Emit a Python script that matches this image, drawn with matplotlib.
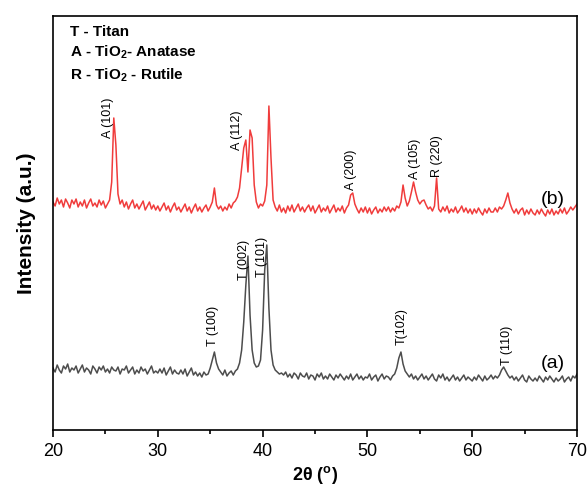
import numpy as np
import matplotlib
matplotlib.use("Agg")
import matplotlib.pyplot as plt
from matplotlib.ticker import MultipleLocator

plt.rcParams['font.family'] = ['Liberation Sans', 'DejaVu Sans']
plt.rcParams['mathtext.fontset'] = 'custom'
plt.rcParams['mathtext.rm'] = 'Liberation Sans'
plt.rcParams['mathtext.bf'] = 'Liberation Sans:bold'

two_theta = np.linspace(20, 70, 251)

# (a) titanium substrate, intensity (a.u.), rows of 2 degrees
counts_a = [
    62, 58, 65, 60, 57, 64, 61, 66, 58, 62,
    60, 64, 57, 61, 65, 58, 62, 60, 56, 64,
    61, 57, 63, 60, 64, 58, 61, 57, 63, 60,
    59, 63, 56, 61, 60, 64, 57, 60, 63, 56,
    60, 57, 63, 59, 61, 56, 60, 64, 57, 59,
    57, 61, 57, 62, 55, 59, 63, 56, 60, 57,
    56, 60, 56, 61, 54, 58, 62, 55, 58, 54,
    57, 53, 58, 55, 56, 62, 70, 78, 67, 61,
    58, 55, 60, 54, 57, 59, 55, 59, 61, 67,
    80, 108, 145, 174, 115, 80, 67, 63, 64, 70,
    100, 160, 185, 122, 80, 65, 60, 58, 56, 57,
    55, 58, 53, 56, 52, 57, 55, 51, 57, 54,
    53, 57, 51, 55, 54, 50, 56, 53, 57, 51,
    54, 51, 56, 53, 50, 55, 52, 56, 53, 50,
    54, 51, 56, 50, 53, 56, 51, 54, 50, 53,
    52, 56, 50, 53, 55, 49, 53, 56, 51, 54,
    53, 50, 54, 56, 62, 72, 78, 66, 59, 56,
    53, 56, 51, 54, 50, 53, 56, 51, 54, 50,
    53, 56, 51, 49, 55, 52, 56, 50, 53, 49,
    52, 55, 50, 53, 49, 52, 55, 50, 53, 51,
    49, 53, 50, 55, 52, 49, 54, 50, 52, 55,
    51, 54, 52, 55, 60, 63, 59, 55, 52, 54,
    50, 53, 49, 52, 55, 50, 48, 54, 51, 49,
    52, 49, 54, 51, 48, 53, 50, 54, 51, 48,
    52, 49, 51, 54, 48, 51, 53, 49, 54, 52,
    56,
]

# (b) oxidised sample
counts_b = [
    228, 224, 232, 226, 230, 223, 231, 227, 222, 230,
    226, 231, 223, 228, 224, 230, 222, 227, 231, 224,
    227, 223, 230, 225, 229, 222, 226, 230, 248, 312,
    285, 236, 226, 230, 223, 228, 221, 226, 230, 222,
    226, 221, 225, 229, 220, 224, 228, 221, 225, 220,
    224, 219, 223, 227, 220, 224, 218, 223, 227, 220,
    223, 218, 222, 226, 219, 223, 217, 222, 226, 219,
    223, 218, 222, 225, 219, 223, 228, 242, 225, 221,
    224, 219, 223, 220, 226, 222, 227, 229, 233, 242,
    262, 282, 290, 258, 300, 292, 245, 228, 222, 226,
    224, 229, 245, 324, 272, 230, 223, 219, 225, 218,
    222, 217, 224, 219, 225, 218, 222, 226, 219, 223,
    218, 222, 225, 219, 224, 217, 221, 225, 218, 222,
    219, 224, 217, 221, 225, 218, 222, 219, 224, 217,
    222, 225, 235, 237, 226, 221, 217, 222, 218, 223,
    217, 222, 216, 220, 223, 217, 221, 218, 223, 219,
    223, 218, 222, 219, 224, 222, 228, 245, 232, 224,
    229, 238, 248, 238, 230, 226, 229, 230, 225, 221,
    223, 219, 224, 252, 221, 218, 223, 219, 224, 217,
    221, 218, 223, 217, 220, 224, 218, 222, 217, 221,
    216, 221, 217, 222, 218, 215, 221, 217, 222, 218,
    218, 222, 218, 223, 221, 224, 230, 237, 227, 221,
    217, 221, 216, 220, 222, 215, 220, 216, 221, 217,
    215, 220, 216, 221, 217, 214, 220, 216, 221, 215,
    219, 216, 221, 217, 222, 216, 219, 223, 220, 223,
    226,
]

# peak labels: text, 2theta, height of label foot
labels_b = ['A (101)', 'A (112)', 'A (200)', 'A (105)', 'R (220)']
label_x_b = [25.25, 37.55, 48.4, 54.5, 56.6]
label_y_b = [292, 280, 240, 251, 253]

labels_a = ['T (100)', 'T (002)', 'T (101)', 'T(102)', 'T (110)']
label_x_a = [35.25, 38.25, 39.95, 53.3, 63.3]
label_y_a = [84, 150, 153, 85, 65]

fig = plt.figure(figsize=(5.87, 4.86), dpi=100)
ax = fig.add_axes([0.0903, 0.1152, 0.8927, 0.8519])

ax.plot(two_theta, counts_b, color='#f03c3c', lw=1.1)
ax.plot(two_theta, counts_a, color='#4d4d4d', lw=1.1)

for t, x, y in zip(labels_b, label_x_b, label_y_b):
    ax.text(x, y, t, rotation=90, ha='center', va='bottom', fontsize=9)
for t, x, y in zip(labels_a, label_x_a, label_y_a):
    ax.text(x, y, t, rotation=90, ha='center', va='bottom', fontsize=9)

ax.text(68.8, 230, '(b)', fontsize=14, ha='right', va='center')
ax.text(68.8, 67, '(a)', fontsize=14, ha='right', va='center')

ax.text(0.032, 0.961, 'T - Titan', transform=ax.transAxes,
        fontsize=11, fontweight='bold', va='center')
ax.text(0.032, 0.913, r'A - TiO$_\mathbf{2}$- Anatase', transform=ax.transAxes,
        fontsize=11, fontweight='bold', va='center')
ax.text(0.032, 0.857, r'R - TiO$_\mathbf{2}$ - Rutile', transform=ax.transAxes,
        fontsize=11, fontweight='bold', va='center')

ax.set_xlim(20, 70)
ax.set_ylim(0, 414)
ax.set_yticks([])
ax.xaxis.set_major_locator(MultipleLocator(10))
ax.xaxis.set_minor_locator(MultipleLocator(5))
ax.tick_params(axis='x', which='major', direction='out', length=5, width=1.2,
               labelsize=13, pad=4)
ax.tick_params(axis='x', which='minor', direction='out', length=3, width=1.2)
for s in ax.spines.values():
    s.set_linewidth(1.2)

ax.set_xlabel(r'2θ ($^\mathbf{o}$)', fontsize=13, fontweight='bold', labelpad=3)
ax.set_ylabel('Intensity (a.u.)', fontsize=15, fontweight='bold', labelpad=12)

fig.savefig('out.png', dpi=100)
